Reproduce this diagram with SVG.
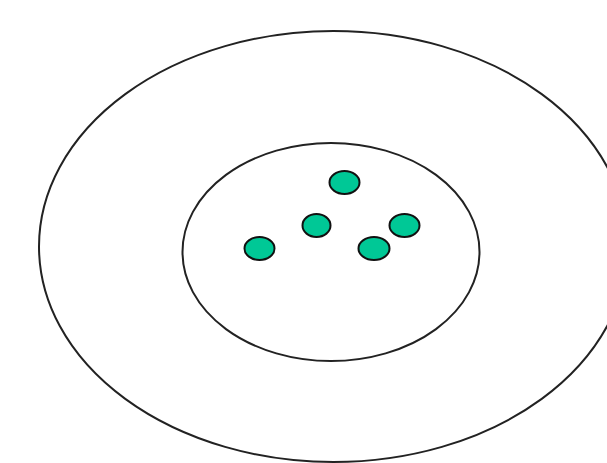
<svg xmlns="http://www.w3.org/2000/svg" width="607" height="463" viewBox="0 0 607 463">
<style>
.ring{fill:none;stroke:#222;stroke-width:2}
.dot{fill:#00c896;stroke:#111;stroke-width:2}
</style>
<rect width="607" height="463" fill="#fff"/>
<g id="outer"><ellipse class="ring" cx="333.5" cy="246.5" rx="294.5" ry="215.5"/></g>
<g id="inner"><ellipse class="ring" cx="331" cy="252" rx="148.5" ry="109"/></g>
<g id="dot1"><ellipse class="dot" cx="344.5" cy="182.5" rx="15" ry="11.5"/></g>
<g id="dot2"><ellipse class="dot" cx="316.5" cy="225.5" rx="14" ry="11.5"/></g>
<g id="dot3"><ellipse class="dot" cx="404.5" cy="225.5" rx="15" ry="11.5"/></g>
<g id="dot4"><ellipse class="dot" cx="259.5" cy="248.5" rx="15" ry="11.5"/></g>
<g id="dot5"><ellipse class="dot" cx="374" cy="248.5" rx="15.5" ry="11.5"/></g>
<g id="connectors"></g>
</svg>
